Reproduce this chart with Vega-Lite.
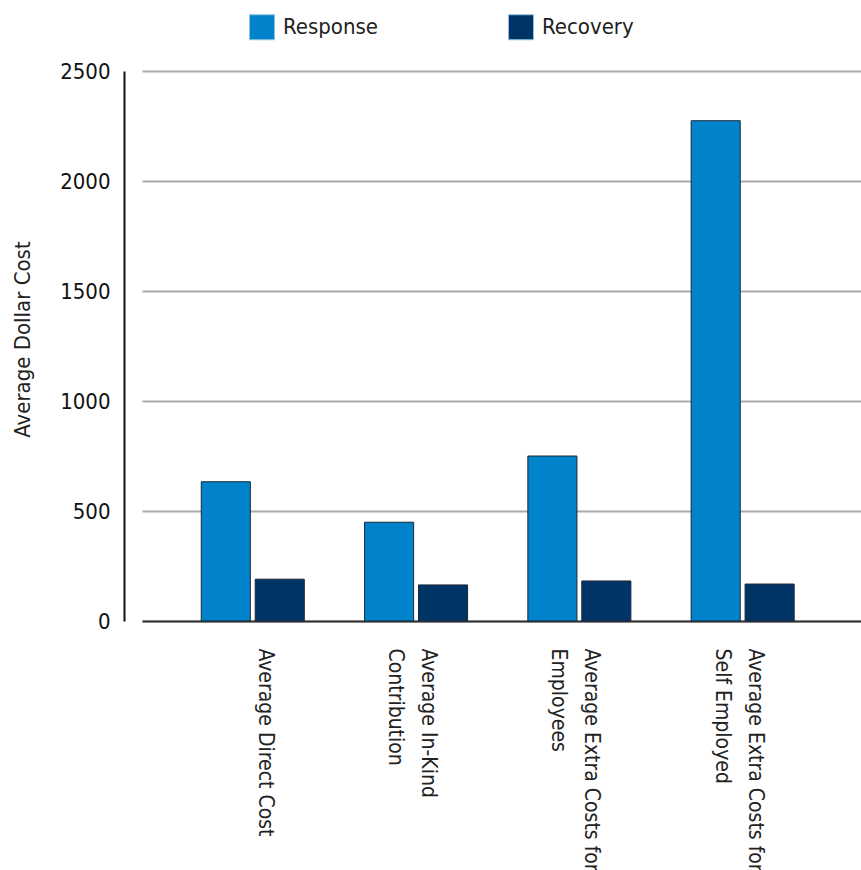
{
  "$schema": "https://vega.github.io/schema/vega-lite/v6.json",
  "autosize": {"type": "none"},
  "padding": {"left": 124, "top": 71, "right": 0, "bottom": 249},
  "width": 737,
  "height": 550,
  "config": {
    "font": "Liberation Sans Narrow, DejaVu Sans Condensed, Liberation Sans, sans-serif",
    "view": {"stroke": null}
  },
  "data": {
    "values": [
      {"category": "Average Direct Cost", "phase": "Response", "cost": 633},
      {"category": "Average Direct Cost", "phase": "Recovery", "cost": 190},
      {"category": "Average In-Kind Contribution", "phase": "Response", "cost": 449},
      {"category": "Average In-Kind Contribution", "phase": "Recovery", "cost": 164},
      {"category": "Average Extra Costs for Employees", "phase": "Response", "cost": 750},
      {"category": "Average Extra Costs for Employees", "phase": "Recovery", "cost": 182},
      {"category": "Average Extra Costs for Self Employed", "phase": "Response", "cost": 2274},
      {"category": "Average Extra Costs for Self Employed", "phase": "Recovery", "cost": 168}
    ]
  },
  "mark": {"type": "bar", "stroke": "#1b2838", "strokeWidth": 1},
  "encoding": {
    "x": {
      "field": "category",
      "type": "nominal",
      "sort": null,
      "scale": {"range": [18, 737], "paddingInner": 0.369, "paddingOuter": 0.386, "align": 0.47},
      "axis": {
        "title": null,
        "ticks": false,
        "domainColor": "#333333",
        "domainWidth": 2,
        "labelAngle": 90,
        "labelAlign": "left",
        "labelBaseline": "alphabetic",
        "labelOffset": 6,
        "labelPadding": 27,
        "labelFontSize": 21,
        "labelColor": "#222222",
        "labelLineHeight": 33,
        "labelLimit": 500,
        "labelExpr": "datum.value == 'Average In-Kind Contribution' ? ['Average In-Kind', 'Contribution'] : datum.value == 'Average Extra Costs for Employees' ? ['Average Extra Costs for', 'Employees'] : datum.value == 'Average Extra Costs for Self Employed' ? ['Average Extra Costs for', 'Self Employed'] : datum.value"
      }
    },
    "xOffset": {
      "field": "phase",
      "type": "nominal",
      "sort": ["Response", "Recovery"],
      "scale": {"paddingInner": 0.09, "paddingOuter": 0}
    },
    "y": {
      "field": "cost",
      "type": "quantitative",
      "scale": {"domain": [0, 2500]},
      "axis": {
        "title": "Average Dollar Cost",
        "titleFontSize": 22,
        "titleFontWeight": "normal",
        "titleColor": "#222222",
        "titleX": -102,
        "titleY": 268,
        "titleAngle": -90,
        "titleAlign": "center",
        "titleBaseline": "middle",
        "values": [0, 500, 1000, 1500, 2000, 2500],
        "format": "d",
        "ticks": false,
        "labelPadding": 14,
        "labelFontSize": 22,
        "labelColor": "#111111",
        "domainColor": "#111111",
        "domainWidth": 2,
        "grid": true,
        "gridColor": "#aaaaaa",
        "gridWidth": 2
      }
    },
    "color": {
      "field": "phase",
      "type": "nominal",
      "sort": ["Response", "Recovery"],
      "scale": {"domain": ["Response", "Recovery"], "range": ["#0083ca", "#003466"]},
      "legend": {
        "title": null,
        "orient": "none",
        "direction": "horizontal",
        "legendX": 125,
        "legendY": -57,
        "symbolType": "square",
        "symbolSize": 625,
        "symbolStrokeWidth": 1,
        "symbolStrokeColor": "#8fbfe0",
        "labelFontSize": 22,
        "labelColor": "#222222",
        "labelOffset": 8,
        "columnPadding": 128
      }
    }
  }
}
